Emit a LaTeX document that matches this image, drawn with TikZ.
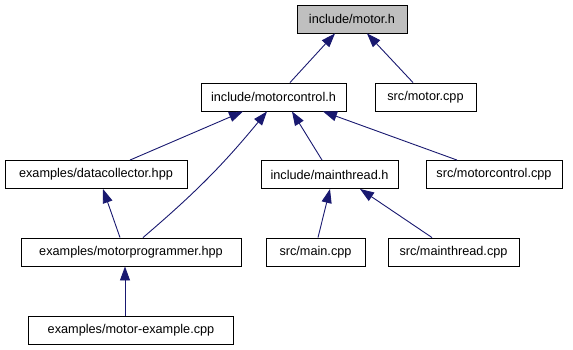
\documentclass[tikz,border=0pt]{standalone}
\usepackage{fontspec}
\setmainfont{Liberation Sans}
\usetikzlibrary{arrows.meta,calc}
\definecolor{edgeblue}{HTML}{191970}
\definecolor{focusgray}{HTML}{BFBFBF}
\begin{document}
\begin{tikzpicture}[x=1pt,y=-1pt,
  filebox/.style={draw=black,line width=0.9pt,fill=white,minimum height=28pt,
    inner sep=0pt,font=\fontsize{12.7}{14}\selectfont},
  >={Triangle[length=14pt,width=10pt]},
  incl/.style={draw=edgeblue,line width=0.9pt,->}]
  \useasboundingbox (0,0) rectangle (573,349);

  % files, one row per include level
  \node[filebox,fill=focusgray,minimum width=110pt] (motorh) at (352,19) {include/motor.h};
  \node[filebox,minimum width=145pt] (mch) at (273.5,97) {include/motorcontrol.h};
  \node[filebox,minimum width=101pt] (motorcpp) at (425.5,97) {src/motor.cpp};
  \node[filebox,minimum width=182pt] (dc) at (96,174.5) {examples/datacollector.hpp};
  \node[filebox,minimum width=137pt] (mth) at (329.5,174.5) {include/mainthread.h};
  \node[filebox,minimum width=136pt] (mccpp) at (494,174.5) {src/motorcontrol.cpp};
  \node[filebox,minimum width=220pt] (mp) at (131,252) {examples/motorprogrammer.hpp};
  \node[filebox,minimum width=99pt] (maincpp) at (315.5,252) {src/main.cpp};
  \node[filebox,minimum width=131pt] (mtcpp) at (453.5,252) {src/mainthread.cpp};
  \node[filebox,minimum width=205pt] (mex) at (131,330) {examples/motor-example.cpp};

  % include edges, from the including file to the included one
  \draw[incl] ([xshift=16.5pt]mch.north) -- ([xshift=-17pt]motorh.south);
  \draw[incl] ([xshift=-12.5pt]motorcpp.north) -- ([xshift=15pt]motorh.south);
  \draw[incl] ([xshift=34pt]dc.north) -- ([xshift=-30.5pt]mch.south);
  \draw[incl] ([xshift=12pt]mp.north) to[bend right=5] ([xshift=-6.5pt]mch.south);
  \draw[incl] ([xshift=-7.5pt]mth.north) -- ([xshift=18.5pt]mch.south);
  \draw[incl] ([xshift=-37pt]mccpp.north) -- ([xshift=49.5pt]mch.south);
  \draw[incl] ([xshift=-11pt]mp.north) -- ([xshift=7pt]dc.south);
  \draw[incl] ([xshift=2.5pt]maincpp.north) -- ([xshift=0.5pt]mth.south);
  \draw[incl] ([xshift=-21.5pt]mtcpp.north) -- ([xshift=30.5pt]mth.south);
  \draw[incl] ([xshift=-6pt]mex.north) -- ([xshift=-6pt]mp.south);
\end{tikzpicture}
\end{document}
